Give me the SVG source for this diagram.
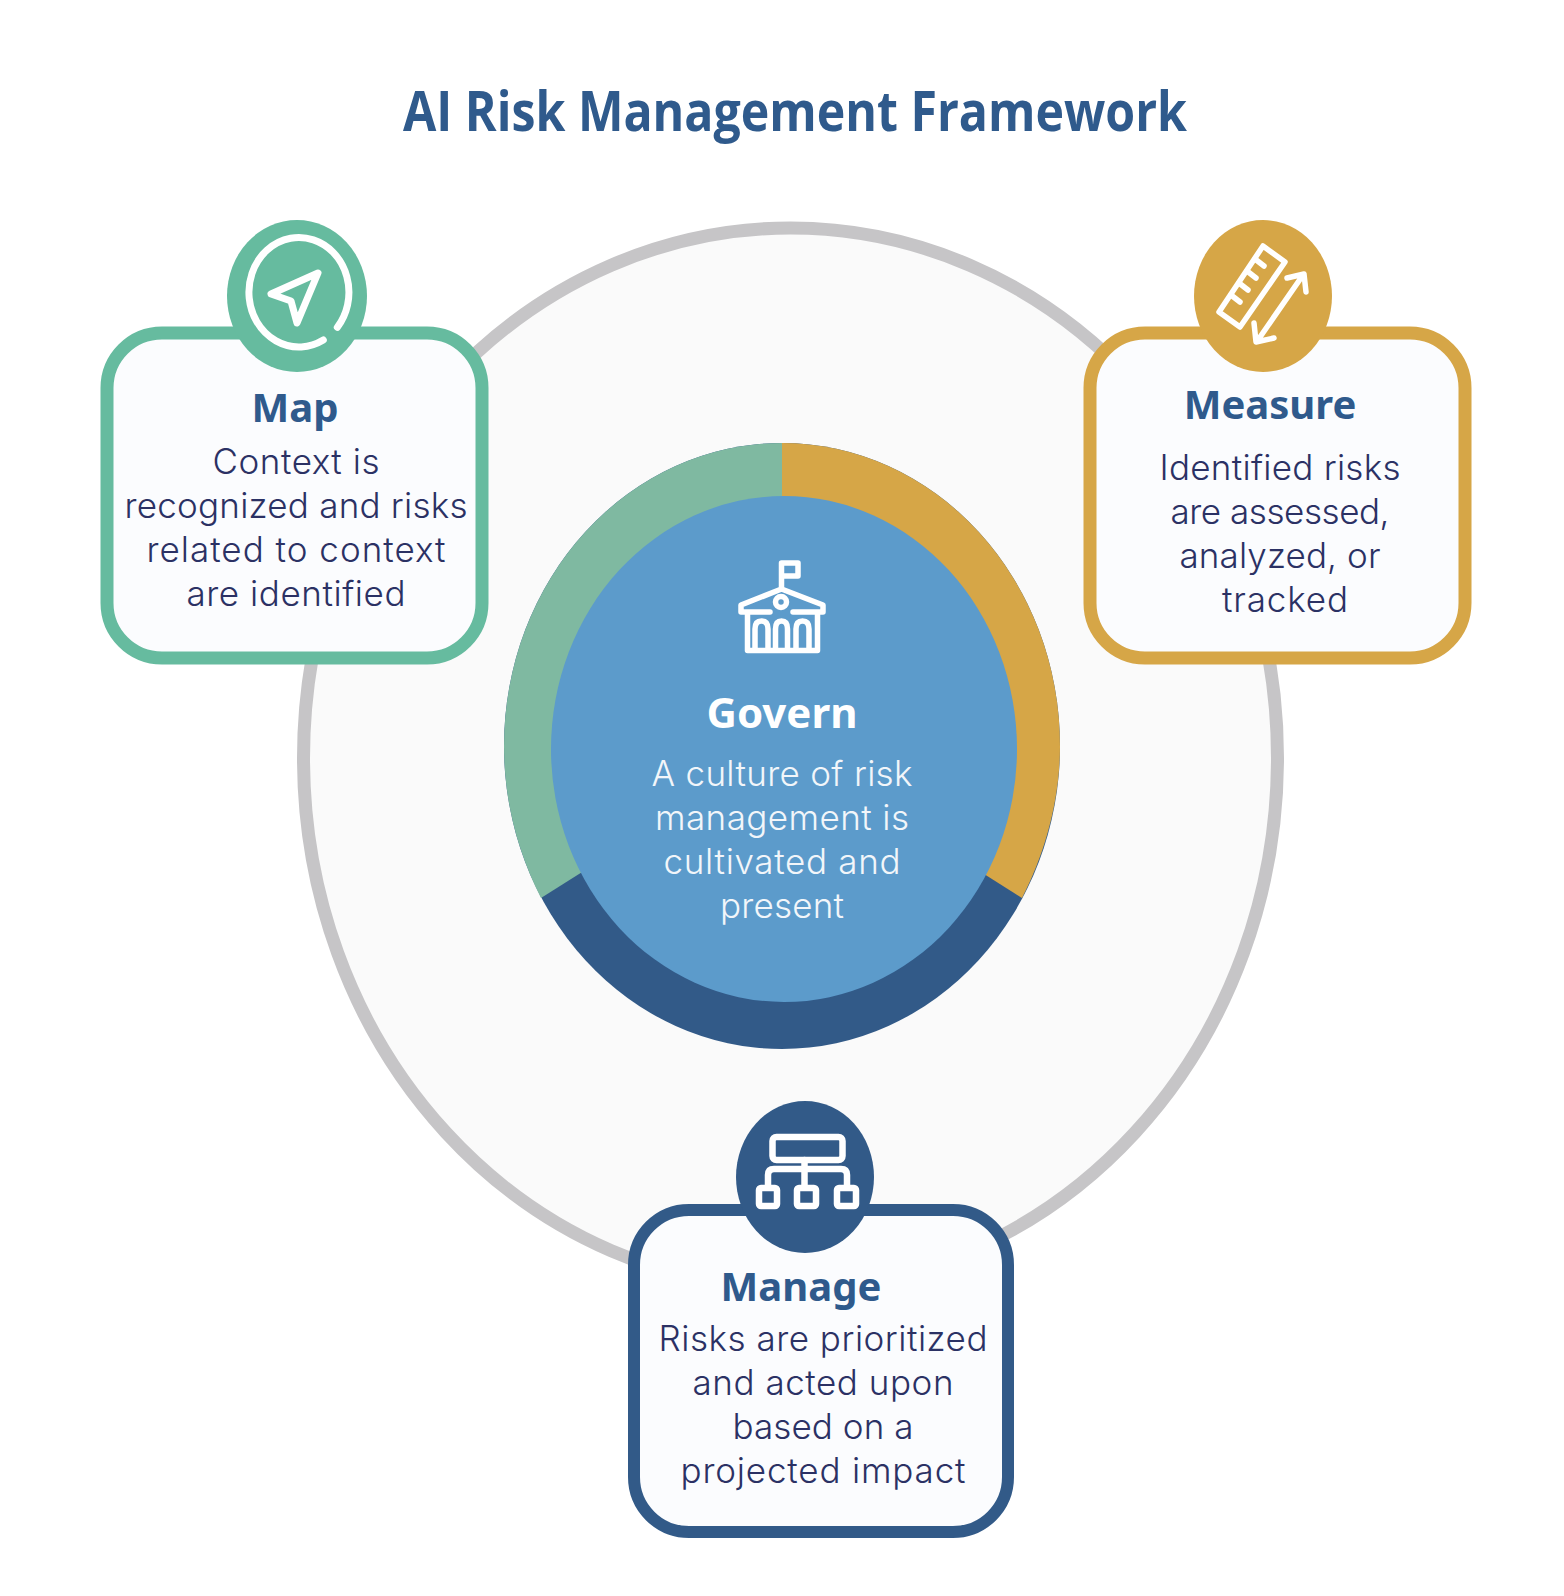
<svg xmlns="http://www.w3.org/2000/svg" width="1564" height="1596" viewBox="0 0 1564 1596">
<style>
text{text-anchor:middle;font-family:"Open Sans","Noto Sans",sans-serif}
.h{font-family:"Noto Sans","Open Sans",sans-serif;font-weight:700;font-size:40px;fill:#2f5a8c}
.b{font-family:"Inter","Open Sans",sans-serif;font-size:35px;font-weight:300;fill:#2b3164}
.w{fill:#f2f6fa}
.box{fill:#fbfcfe;stroke-width:13}
.ic{fill:none;stroke:#fff;stroke-width:5.5;stroke-linecap:round;stroke-linejoin:round}
</style>
<rect width="1564" height="1596" fill="#fff"/>
<text x="795" y="131" style="font-family:'Open Sans',sans-serif;font-weight:700;font-size:56px;fill:#2f5a8c" textLength="784" lengthAdjust="spacingAndGlyphs">AI Risk Management Framework</text>
<g id="cycle-ring"><ellipse cx="790.5" cy="758" rx="487" ry="530" fill="#fafafa" stroke="#c6c5c7" stroke-width="13"/></g>
<g id="govern">
<ellipse cx="782" cy="746" rx="278" ry="303" fill="#325a88"/>
<path d="M782 443A278 303 0 0 0 504 746C504 800 517 851 541 898L782 746Z" fill="#7fb9a1"/>
<path d="M782 443A278 303 0 0 1 1060 746C1060 800 1045 853 1022 898L782 746Z" fill="#d6a647"/>
<ellipse cx="784" cy="749" rx="233" ry="253" fill="#5c9bcb"/>
<g class="ic"><path d="M781.5 587V563H798V576H781.5"/><path d="M770 612H741V605L781.5 589 823 605V612H793"/><circle cx="781" cy="602" r="5.5"/><path d="M747.5 613V650.5H817.5V613"/><path d="M755 650V629Q755 621 761.5 621T768 629V650M775.5 650V629Q775.5 621 781.5 621T787.5 629V650M796 650V629Q796 621 802.5 621T809 629V650"/></g>
<text x="782" y="728" class="h" style="fill:#fff;font-size:42px">Govern</text>
<text class="b w" x="782" y="786" textLength="261">A culture of risk</text>
<text class="b w" x="782" y="830" textLength="254">management is</text>
<text class="b w" x="782" y="874" textLength="237">cultivated and</text>
<text class="b w" x="782" y="918" textLength="124">present</text>
</g>
<g id="map">
<rect x="107" y="333" width="375" height="325" rx="55" class="box" stroke="#66bb9f"/>
<ellipse cx="297" cy="296" rx="70" ry="76" fill="#66bb9f"/>
<path class="ic" style="stroke-width:7" d="M323.3 340A50 54.7 0 1 1 337.3 327.3M318 273L271 294 291 301 297 323Z"/>
<text x="295" y="422" class="h">Map</text>
<text class="b" x="296" y="474" textLength="167">Context is</text>
<text class="b" x="296" y="518" textLength="343">recognized and risks</text>
<text class="b" x="296" y="562" textLength="299">related to context</text>
<text class="b" x="296" y="606" textLength="219">are identified</text>
</g>
<g id="measure">
<rect x="1090" y="333" width="375" height="325" rx="55" class="box" stroke="#d6a647"/>
<ellipse cx="1263" cy="296" rx="69" ry="76" fill="#d6a647"/>
<g class="ic"><path d="M1219 312L1263 246 1285 262 1240 327Z"/><path d="M1255 259L1264 266M1247 271L1256 278M1239 283L1248 290M1231 295L1240 302"/><path d="M1303 275L1258 340M1287 278L1304 274 1306 292M1254 323L1256 342 1274 338"/></g>
<text x="1270" y="419" class="h">Measure</text>
<text class="b" x="1280" y="480" textLength="241">Identified risks</text>
<text class="b" x="1280" y="524" textLength="219">are assessed,</text>
<text class="b" x="1280" y="568" textLength="201">analyzed, or</text>
<text class="b" x="1285" y="612" textLength="126">tracked</text>
</g>
<g id="manage">
<rect x="634" y="1210" width="374" height="322" rx="55" class="box" stroke="#325a88" style="stroke-width:12"/>
<ellipse cx="805" cy="1177" rx="69" ry="76" fill="#325a88"/>
<g class="ic" style="stroke-width:6.5"><rect x="772.5" y="1137" width="70" height="23" rx="4"/><path d="M804.5 1160V1185M768 1185V1175Q768 1169 774 1169H841Q847 1169 847 1175V1185"/><rect x="759" y="1188" width="18" height="18" rx="2"/><rect x="797" y="1188" width="19" height="18" rx="2"/><rect x="837" y="1188" width="19" height="18" rx="2"/></g>
<text x="801" y="1301" class="h">Manage</text>
<text class="b" x="823" y="1351" textLength="329">Risks are prioritized</text>
<text class="b" x="823" y="1395" textLength="261">and acted upon</text>
<text class="b" x="823" y="1439" textLength="181">based on a</text>
<text class="b" x="823" y="1483" textLength="285">projected impact</text>
</g>
</svg>
